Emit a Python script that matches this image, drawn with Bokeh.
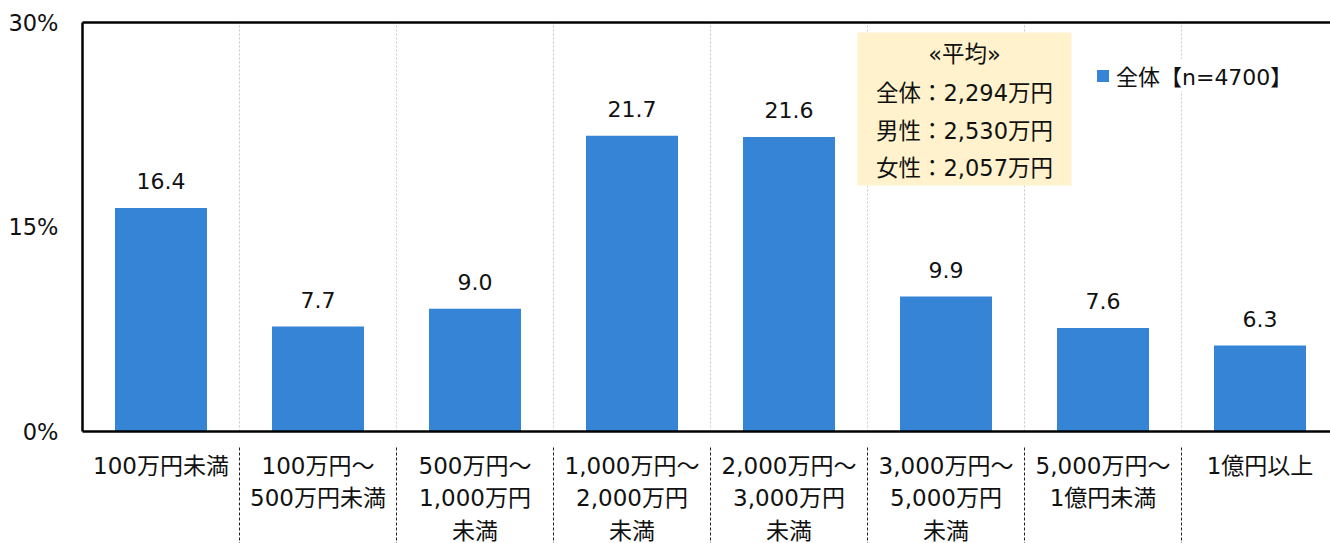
from bokeh.plotting import figure
from bokeh.models import Range1d, FixedTicker, ColumnDataSource, Legend
from bokeh.core.properties import value
from bokeh.embed import file_html
from bokeh.resources import INLINE

categories = ["100万円未満", "100万円～\n500万円未満", "500万円～\n1,000万円\n未満",
              "1,000万円～\n2,000万円\n未満", "2,000万円～\n3,000万円\n未満",
              "3,000万円～\n5,000万円\n未満", "5,000万円～\n1億円未満", "1億円以上"]
values = [16.4, 7.7, 9.0, 21.7, 21.6, 9.9, 7.6, 6.3]
y_ticks = [0, 15, 30]
y_tick_labels = ["0%", "15%", "30%"]
legend_label = "全体【n=4700】"
note_lines = ["«平均»", "全体：2,294万円", "男性：2,530万円", "女性：2,057万円"]

FONT_NAME = "DejaVu Sans, Noto Sans CJK JP"
FONT = value(FONT_NAME)
FS = "22px"
BAR = "#3584d6"

W, H = 1330, 543
pxu = 409 / 30.0
pxc = 157.0
y_start = -(H - 431) / pxu
y_end = 30 + 2 / pxu
x_start = -2 / pxc
x_end = x_start + (W - 80) / pxc

p = figure(width=W, height=H, output_backend="svg", toolbar_location=None,
           x_range=Range1d(x_start, x_end), y_range=Range1d(y_start, y_end),
           min_border_left=80, min_border_right=0, min_border_top=20, min_border_bottom=0)
p.outline_line_color = None
p.xgrid.visible = False
p.ygrid.visible = False
p.xaxis.visible = False
p.background_fill_color = "white"

ya = p.yaxis[0]
ya.ticker = FixedTicker(ticks=y_ticks)
ya.major_label_overrides = {t: l for t, l in zip(y_ticks, y_tick_labels)}
ya.axis_line_color = None
ya.major_tick_line_color = None
ya.minor_tick_line_color = None
ya.major_tick_out = 0
ya.major_tick_in = 0
ya.major_label_standoff = 22
ya.major_label_text_font = "DejaVu Sans"
ya.major_label_text_font_size = "22.5px"
ya.major_label_text_color = "#111111"

n = len(categories)
centers = [i + 0.5 for i in range(n)]
bounds = list(range(1, n))

# dotted vertical gridlines
p.segment(x0=bounds, y0=[0] * len(bounds), x1=bounds, y1=[30] * len(bounds),
          line_color="#c8c8c8", line_width=1, line_dash="2 2")
# dashed separators under the axis
p.segment(x0=bounds, y0=[-16 / pxu] * len(bounds), x1=bounds, y1=[y_start] * len(bounds),
          line_color="#222222", line_width=1, line_dash="3 2")

src = ColumnDataSource(dict(x=centers, top=values, lab=[f"{v:.1f}" for v in values]))
bars = p.vbar(x="x", top="top", width=0.586, bottom=0, source=src,
              fill_color=BAR, line_color=None)
p.text(x="x", y="top", text="lab", source=src, text_align="center", text_baseline="middle",
       y_offset=-27, text_font=FONT, text_font_size=FS, text_color="#111111")

# frame lines
p.segment(x0=[0], y0=[0], x1=[0], y1=[30], line_color="black", line_width=2.5)
p.segment(x0=[0], y0=[30], x1=[x_end], y1=[30], line_color="black", line_width=2.5)
p.segment(x0=[0], y0=[0], x1=[x_end], y1=[0], line_color="black", line_width=2.5)

# category labels
lx, ly, lt, lo = [], [], [], []
for c, lab in zip(centers, categories):
    for k, line in enumerate(lab.split("\n")):
        lx.append(c); ly.append(0); lt.append(line); lo.append(34 + 32.5 * k)
p.text(x=lx, y=ly, text=lt, y_offset=lo, text_align="center", text_baseline="middle",
       text_font=FONT, text_font_size="23px", text_color="#111111")

# average note box
bl = (857 - 82) / pxc
br = (1071 - 82) / pxc
bt = (431 - 32) / pxu
bb = (431 - 185) / pxu
p.quad(left=[bl], right=[br], top=[bt], bottom=[bb], fill_color="#fff2cc", line_color=None)
nx = [(bl + br) / 2] * len(note_lines)
ny = [bt] * len(note_lines)
no = [21, 60, 98, 135]
p.text(x=nx, y=ny, text=note_lines, y_offset=no, text_align="center", text_baseline="middle",
       text_font=FONT, text_font_size="22.5px", text_color="#111111")

legend = Legend(items=[(legend_label, [bars])], location=(1015, 452),
                label_text_font=FONT_NAME, label_text_font_size=FS, label_text_color="#111111",
                glyph_width=15, glyph_height=15, padding=10, margin=0, label_standoff=6,
                border_line_color=None, background_fill_color="white", background_fill_alpha=1.0)
p.add_layout(legend, "center")

open("out.html", "w").write(file_html(p, INLINE))
